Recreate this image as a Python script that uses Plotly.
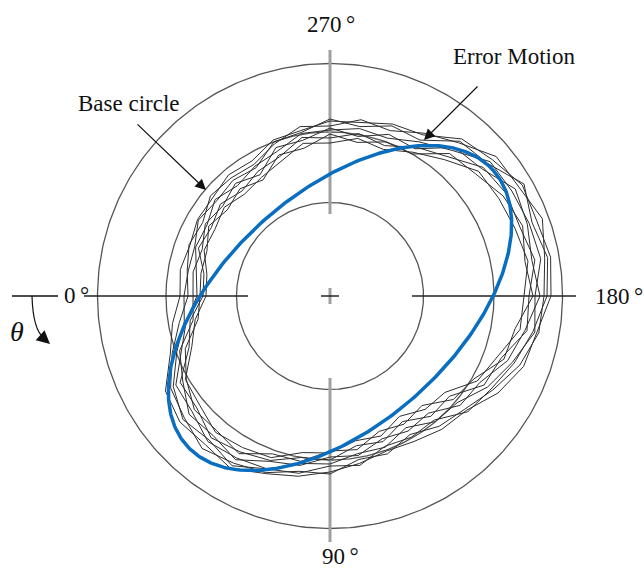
import numpy as np
import plotly.graph_objects as go

# ---------------- data ----------------
CX, CY = 330, 296                      # centre of the diagram (axis units)
RING_RADII = [93.5, 164, 232.5]        # reference circles (inner, base circle, outer)
AXIS_R = [82, 246]                     # crosshair segment extents (radius)
CENTER_MARK = 9

ANGLES_DEG = list(range(0, 360, 10))   # 0 deg at left, increasing downward (clockwise theta)

# measured error traces (radius at each angle)
T1 = [150,160,170,190,196,194,199,189,183,176,170,165,168,174,178,194,206,210,221,224,220,222,212,205,186,183,176,175,168,166,156,158,153,153,149,152]
T2 = [142,153,168,184,190,199,193,188,178,178,166,168,160,170,176,188,202,212,214,218,226,218,217,200,188,176,179,170,172,162,152,154,156,147,150,145]
T3 = [146,148,163,181,192,188,196,184,180,170,172,160,163,162,180,186,196,206,217,221,215,224,206,202,180,181,172,177,166,164,148,151,148,152,144,144]
T4 = [133,146,158,178,180,190,187,184,170,168,160,161,152,164,166,182,194,208,205,214,212,210,209,190,178,168,170,166,165,154,150,144,150,142,143,136]
T5 = [137,139,160,170,184,182,189,176,172,161,162,152,156,153,170,173,189,198,210,205,210,214,198,194,170,172,162,168,158,158,140,147,140,144,136,139]
T6 = [127,142,150,173,174,185,180,175,164,164,152,155,145,157,156,178,182,200,199,208,202,204,200,182,172,160,165,158,161,148,144,137,143,137,140,128]
T7 = [130,134,154,166,177,176,182,168,168,155,156,144,148,143,161,166,185,188,203,198,205,200,190,186,164,164,156,162,150,150,134,140,134,140,131,131]
T8 = [124,137,147,167,170,178,175,172,159,157,147,149,139,148,150,170,178,193,194,201,197,195,194,178,166,156,160,153,155,143,137,133,138,133,134,125]
TRACES = [T1, T2, T3, T4, T5, T6, T7, T8]

# fitted error-motion ellipse
ELL_CENTER = (340, 308)
ELL_SEMI_MAJOR = 206
ELL_SEMI_MINOR = 116
ELL_TILT_DEG = 42

LABELS = ["0°", "90°", "180°", "270°"]

# ---------------- figure ----------------
W, H = 644, 568
fig = go.Figure()

def polar_xy(r, ang_deg):
    th = np.deg2rad(np.asarray(ang_deg, dtype=float))
    r = np.asarray(r, dtype=float)
    return CX - r * np.cos(th), CY + r * np.sin(th)

# reference circles
full = np.linspace(0, 360, 361)
for rr in RING_RADII:
    x, y = polar_xy(np.full_like(full, rr), full)
    fig.add_trace(go.Scatter(x=x, y=y, mode="lines",
                             line=dict(color="#555555", width=1.3),
                             hoverinfo="skip", showlegend=False))

# crosshair: horizontal (dark) and vertical (grey)
for sgn in (-1, 1):
    fig.add_trace(go.Scatter(x=[CX + sgn * AXIS_R[0], CX + sgn * AXIS_R[1]], y=[CY, CY],
                             mode="lines", line=dict(color="#222222", width=1.5),
                             hoverinfo="skip", showlegend=False))
    fig.add_trace(go.Scatter(x=[CX, CX], y=[CY + sgn * AXIS_R[0], CY + sgn * AXIS_R[1]],
                             mode="lines", line=dict(color="#a0a0a0", width=3),
                             hoverinfo="skip", showlegend=False))
fig.add_trace(go.Scatter(x=[CX, CX], y=[CY - CENTER_MARK + 1, CY + CENTER_MARK - 1], mode="lines",
                         line=dict(color="#a0a0a0", width=3), hoverinfo="skip", showlegend=False))
fig.add_trace(go.Scatter(x=[CX - CENTER_MARK, CX + CENTER_MARK], y=[CY, CY], mode="lines",
                         line=dict(color="#222222", width=1.5), hoverinfo="skip", showlegend=False))

# error traces
for tr in TRACES:
    ang = ANGLES_DEG + [ANGLES_DEG[0] + 360]
    rad = tr + [tr[0]]
    x, y = polar_xy(rad, ang)
    fig.add_trace(go.Scatter(x=x, y=y, mode="lines",
                             line=dict(color="#2e2e2e", width=1),
                             hoverinfo="skip", showlegend=False))

# ellipse
t = np.linspace(0, 2 * np.pi, 400)
phi = np.deg2rad(ELL_TILT_DEG)
ex = ELL_CENTER[0] + ELL_SEMI_MAJOR * np.cos(t) * np.cos(phi) + ELL_SEMI_MINOR * np.sin(t) * np.sin(phi)
ey = ELL_CENTER[1] - ELL_SEMI_MAJOR * np.cos(t) * np.sin(phi) + ELL_SEMI_MINOR * np.sin(t) * np.cos(phi)
fig.add_trace(go.Scatter(x=ex, y=ey, mode="lines", line=dict(color="#0A6EC0", width=3.5),
                         hoverinfo="skip", showlegend=False))

# theta indicator
fig.add_trace(go.Scatter(x=[12, 58], y=[CY, CY], mode="lines",
                         line=dict(color="#111111", width=1.5), hoverinfo="skip", showlegend=False))
fig.add_shape(type="path", path="M 32,296 Q 33,330 44,338", xref="x", yref="y",
              line=dict(color="#111111", width=1.2))

font = dict(family="Liberation Serif", size=23, color="#111111")
ann = []
ann.append(dict(x=50, y=344, ax=41, ay=336, xref="x", yref="y", axref="x", ayref="y",
                text="", showarrow=True, arrowhead=2, arrowsize=2.2, arrowwidth=1.2,
                arrowcolor="#111111", standoff=0))
ann.append(dict(x=424, y=140, ax=479, ay=85, xref="x", yref="y", axref="x", ayref="y",
                text="", showarrow=True, arrowhead=2, arrowsize=1.8, arrowwidth=1.2,
                arrowcolor="#111111", standoff=0))
ann.append(dict(x=206, y=190, ax=136, ay=123, xref="x", yref="y", axref="x", ayref="y",
                text="", showarrow=True, arrowhead=2, arrowsize=1.8, arrowwidth=1.2,
                arrowcolor="#111111", standoff=0))
ann.append(dict(x=514, y=56, text="Error Motion", showarrow=False, font=font,
                xanchor="center", yanchor="middle"))
ann.append(dict(x=129, y=103, text="Base circle", showarrow=False, font=font,
                xanchor="center", yanchor="middle"))
ann.append(dict(x=91, y=295, text=LABELS[0].replace("°", "\u2009°"), showarrow=False, font=font,
                xanchor="right", yanchor="middle"))
ann.append(dict(x=340, y=556, text=LABELS[1].replace("°", "\u2009°"), showarrow=False, font=font,
                xanchor="center", yanchor="middle"))
ann.append(dict(x=619, y=296, text=LABELS[2].replace("°", "\u2009°"), showarrow=False, font=font,
                xanchor="center", yanchor="middle"))
ann.append(dict(x=331, y=24, text=LABELS[3].replace("°", "\u2009°"), showarrow=False, font=font,
                xanchor="center", yanchor="middle"))
ann.append(dict(x=17, y=331, text="<i>θ</i>", showarrow=False,
                font=dict(family="Liberation Serif", size=28, color="#111111"),
                xanchor="center", yanchor="middle"))

fig.update_layout(
    width=W, height=H, autosize=False,
    margin=dict(l=0, r=0, t=0, b=0),
    paper_bgcolor="white", plot_bgcolor="white",
    xaxis=dict(range=[0, W], visible=False, fixedrange=True),
    yaxis=dict(range=[H, 0], visible=False, fixedrange=True),
    annotations=ann, showlegend=False,
)
fig.write_html("out.html")
